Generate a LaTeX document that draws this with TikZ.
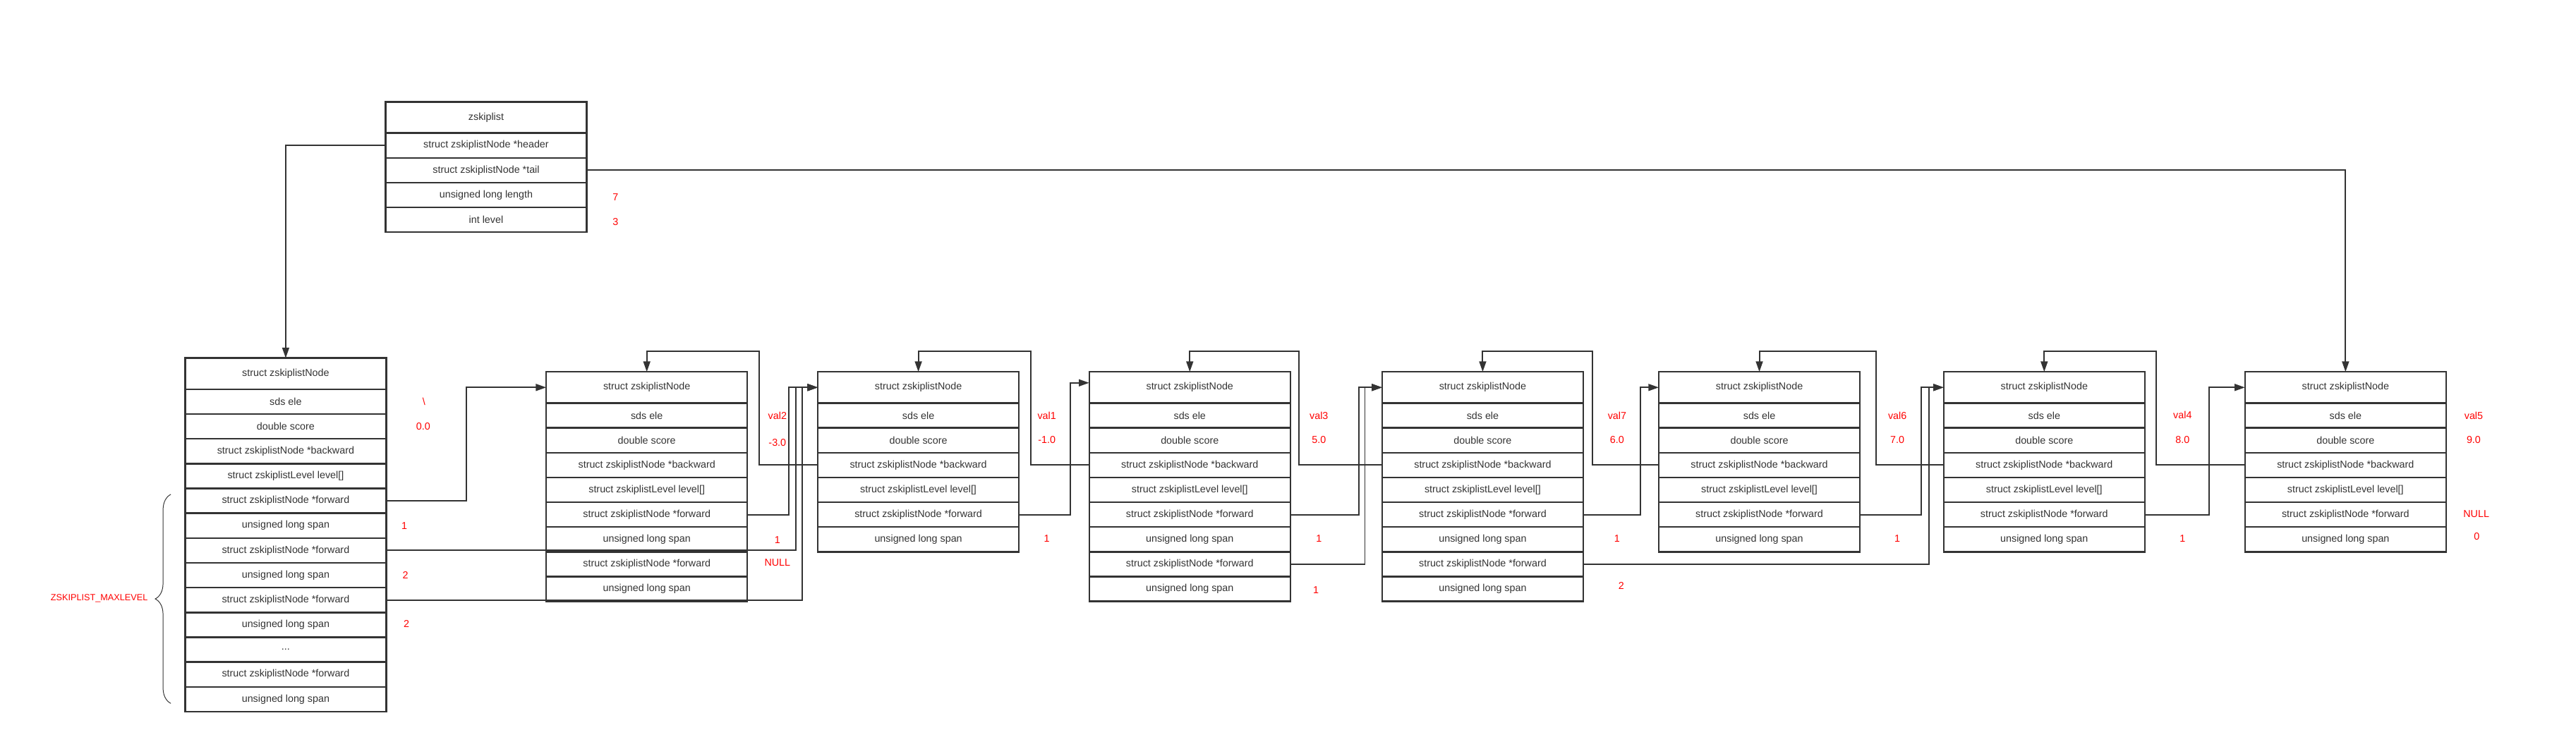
\documentclass[tikz,border=0pt]{standalone}
\usepackage{fontspec}
\setmainfont{Liberation Sans}
\usetikzlibrary{positioning,arrows.meta,decorations.pathreplacing}
\definecolor{linec}{HTML}{333333}
\definecolor{valc}{HTML}{FF0000}
\tikzstyle{field}=[draw=linec,line width=3pt,minimum width=122.4mm,minimum height=15.1mm,inner sep=0pt,outer sep=0pt,text=linec]
\tikzstyle{titlefield}=[field,minimum height=19mm]
\tikzstyle{val}=[text=valc,inner sep=0pt]
\newcommand{\newField}[3]{\node[field,below=0pt of #2](#1){#3};}
\newcommand{\newNode}[2]{\node[titlefield,anchor=north west](#1t) at #2 {struct zskiplistNode};
  \newField{#1e}{#1t}{sds ele}
  \newField{#1s}{#1e}{double score}
  \newField{#1b}{#1s}{struct zskiplistNode *backward}
  \newField{#1l}{#1b}{struct zskiplistLevel level[]}}
\newcommand{\newLevel}[3]{\newField{#1f#2}{#3}{struct zskiplistNode *forward}
  \newField{#1p#2}{#1f#2}{unsigned long span}}
\newcommand{\newLink}[3]{\draw[ptr] (#1.east) -- ++(#3,0) |- (#2.west);}
\newcommand{\backLink}[3]{\draw[ptr] (#1.west) -- ++(#3,0) |- ([yshift=12.4mm]#2.north) -- (#2.north);}

\begin{document}
\begin{tikzpicture}[x=1mm,y=-1mm,
      >={Triangle[length=18pt,width=12pt]},
      font=\fontsize{17.5}{21}\selectfont,
      ptr/.style={->,draw=linec,line width=2.4pt}
      ]
      \useasboundingbox (0,0) rectangle (1568,459.1);
      % zskiplist
      \node[titlefield,anchor=north west](zl) at (234.7,62) {zskiplist};
      \newField{zlh}{zl}{struct zskiplistNode *header}
      \newField{zlt}{zlh}{struct zskiplistNode *tail}
      \newField{zln}{zlt}{unsigned long length}
      \newField{zll}{zln}{int level}
      \node[val](zlnv) at (374.7,120) {7};
      \node[val](zllv) at (374.7,135) {3};

      % header node
      \newNode{h}{(112.7,218)}
      \newLevel{h}{0}{hl}
      \newLevel{h}{1}{hp0}
      \newLevel{h}{2}{hp1}
      \newField{hd}{hp2}{...}
      \newLevel{h}{n}{hd}
      \node[val](hev) at (258,244.6) {\textbackslash};
      \node[val](hsv) at (257.6,259.5) {0.0};
      \node[val](hp0v) at (246.1,320.1) {1};
      \node[val](hp1v) at (246.8,350.2) {2};
      \node[val](hp2v) at (247.4,379.8) {2};
      \draw[linec,line width=1.2pt,decorate,decoration={brace,amplitude=9.5mm}] (104,428.3) -- (104,301);
      \node[val,anchor=east,font=\fontsize{15.5}{19}\selectfont](maxlv) at (90,364.4) {ZSKIPLIST\_MAXLEVEL};

      % nodes
      \newNode{n1}{(332.5,226.4)}
      \newLevel{n1}{0}{n1l}
      \newLevel{n1}{1}{n1p0}
      \node[val](n1ev) at (473.2,253.3) {val2};
      \node[val](n1sv) at (473.2,269.5) {-3.0};
      \node[val](n1pv) at (473.2,328.6) {1};
      \node[val](n1fv) at (473.2,342.6) {NULL};

      \newNode{n2}{(497.8,226.4)}
      \newLevel{n2}{0}{n2l}
      \node[val](n2ev) at (637.2,253) {val1};
      \node[val](n2sv) at (637.2,268) {-1.0};
      \node[val](n2pv) at (637.2,327.8) {1};

      \newNode{n3}{(663,226.4)}
      \newLevel{n3}{0}{n3l}
      \newLevel{n3}{1}{n3p0}
      \node[val](n3ev) at (802.8,253) {val3};
      \node[val](n3sv) at (802.8,268) {5.0};
      \node[val](n3pv) at (802.8,327.8) {1};
      \node[val](n3qv) at (801,359.2) {1};

      \newNode{n4}{(841.3,226.4)}
      \newLevel{n4}{0}{n4l}
      \newLevel{n4}{1}{n4p0}
      \node[val](n4ev) at (984.3,253) {val7};
      \node[val](n4sv) at (984.3,268) {6.0};
      \node[val](n4pv) at (984.3,327.8) {1};
      \node[val](n4qv) at (986.8,356.5) {2};

      \newNode{n5}{(1009.7,226.4)}
      \newLevel{n5}{0}{n5l}
      \node[val](n5ev) at (1154.9,253) {val6};
      \node[val](n5sv) at (1154.9,267.6) {7.0};
      \node[val](n5pv) at (1154.9,327.8) {1};

      \newNode{n6}{(1183.1,226.4)}
      \newLevel{n6}{0}{n6l}
      \node[val](n6ev) at (1328.5,252.8) {val4};
      \node[val](n6sv) at (1328.5,267.6) {8.0};
      \node[val](n6pv) at (1328.5,327.8) {1};

      \newNode{n7}{(1366.5,226.4)}
      \newLevel{n7}{0}{n7l}
      \node[val](n7ev) at (1505.7,253) {val5};
      \node[val](n7sv) at (1505.7,268) {9.0};
      \node[val](n7fv) at (1507.3,313) {NULL};
      \node[val](n7pv) at (1507.6,326.8) {0};

      % pointers
      \draw[ptr] (zlh.west) -| (ht.north);
      \draw[ptr] (zlt.east) -| (n7t.north);
      \newLink{hf0}{n1t}{48.6}
      \newLink{hf1}{n2t}{249.4}
      \newLink{hf2}{n2t}{253.3}
      \newLink{n1f0}{n2t}{25.3}
      \draw[ptr] (n2f0.east) -- ++(31.3,0) |- ([yshift=2.8mm]n3t.west);
      \newLink{n3f0}{n4t}{41.9}
      \newLink{n3f1}{n4t}{45.4}
      \newLink{n4f0}{n5t}{35}
      \newLink{n4f1}{n6t}{210.5}
      \newLink{n5f0}{n6t}{37.5}
      \newLink{n6f0}{n7t}{39.3}
      \backLink{n2b}{n1t}{-35.5}
      \backLink{n3b}{n2t}{-35.5}
      \backLink{n4b}{n3t}{-50.5}
      \backLink{n5b}{n4t}{-40.6}
      \backLink{n6b}{n5t}{-41.1}
      \backLink{n7b}{n6t}{-54.1}
\end{tikzpicture}
\end{document}
